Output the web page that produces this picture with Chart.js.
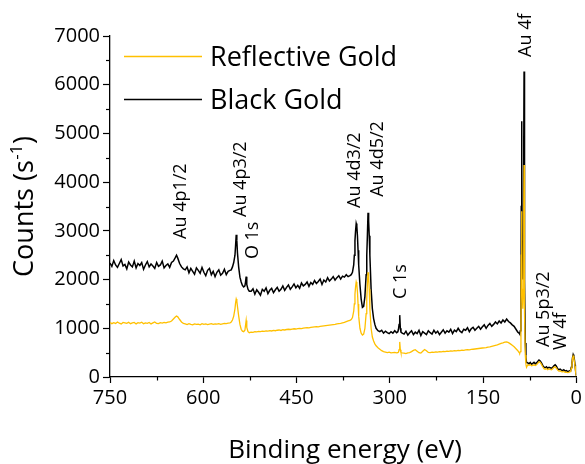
<!DOCTYPE html>
<html><head><meta charset="utf-8">
<script src="https://cdn.jsdelivr.net/npm/chart.js@4"></script>
<style>html,body{margin:0;padding:0;background:#fff}#wrap{width:585px;height:464px;position:relative}</style>
</head><body><div id="wrap"><canvas id="c" width="585" height="464"></canvas></div>
<script>
// Binding energy (eV), descending
const energy = [
750,747,744,741,738,735,732,729,726,723,720,717,714,711,708,705,702,699,696,693,690,687,684,681,678,675,672,669,666,663,660,657,654,651,
648,645,643,641,638,635,632,
629,626,623,620,617,614,611,608,605,602,599,596,593,590,587,584,581,578,575,572,569,566,563,560,557,
555,553,551,549,548,547,546,545,543,541,539,537,535,533,532,531,530,528,526,
523,520,517,514,511,508,505,502,499,496,493,490,487,484,481,478,475,472,469,466,463,460,457,454,451,448,445,442,439,436,433,430,427,424,421,418,415,412,409,406,403,400,397,394,391,388,385,382,379,376,373,370,367,
364,362,360,358,357,356,355,354,353,352,351,350,348,346,344,342,340,338,337,336,335,334,333,332,330,328,326,324,322,319,316,313,310,307,304,301,298,295,292,289,287,286,285,284,283,282,280,
277,274,271,268,265,262,259,256,253,250,247,244,241,238,235,232,229,226,223,220,217,214,211,208,205,202,199,196,193,190,187,184,181,178,175,172,169,166,163,160,157,154,151,148,145,142,139,136,133,130,127,124,121,118,115,112,109,106,103,100,97,94,
92,91,90,89,88.5,88,87.5,87,86,85,84.5,84,83.5,83,82,81,80,
78,76,74,72,70,68,66,64,62,60,58,56,54,52,50,48,46,44,42,40,38,36,34,32,30,28,26,24,22,20,18,16,14,12,10,
9,8,7,6,5,4,3,2,1,0
];
const reflectiveGold = [
1120,1095,1115,1100,1130,1105,1090,1120,1110,1100,1125,1095,1110,1120,1090,1115,1105,1125,1095,1110,1100,1120,1090,1110,1130,1100,1095,1115,1105,1120,1110,1125,1130,1150,
1190,1230,1250,1235,1180,1130,1100,
1090,1075,1095,1080,1070,1090,1080,1085,1070,1095,1080,1090,1075,1085,1095,1080,1090,1085,1095,1080,1090,1100,1095,1105,1110,
1130,1170,1250,1400,1520,1600,1560,1450,1250,1080,980,940,930,960,1060,1160,1020,930,910,
920,915,930,925,935,930,940,935,945,940,950,945,955,950,960,965,955,970,965,975,980,975,985,990,985,995,1000,995,1005,1010,1015,1010,1020,1025,1030,1035,1030,1040,1045,1050,1055,1060,1065,1070,1075,1080,1090,1095,1100,1110,1120,1135,1150,
1160,1180,1220,1350,1500,1700,1850,1950,1900,1750,1500,1250,1000,900,860,880,1000,1300,1600,1900,2150,2050,1800,1400,1000,820,740,680,640,600,570,540,520,510,500,510,495,500,505,495,500,510,560,720,560,500,495,
490,480,495,500,520,545,560,530,500,490,530,565,540,505,500,510,505,515,510,520,515,525,520,530,525,535,530,540,535,545,540,550,545,555,560,555,565,570,575,580,585,590,595,600,605,615,620,630,640,650,660,675,690,700,715,720,705,680,650,620,580,540,
500,490,520,900,2500,3400,2900,1800,1400,1800,3500,4350,3000,1300,450,260,200,
250,240,255,230,240,250,235,250,280,310,300,260,210,170,160,175,150,165,155,150,170,200,210,180,140,120,125,110,105,115,95,100,90,95,110,
130,180,260,380,430,400,320,220,100,20
];
const blackGold = [
2340,2270,2390,2300,2250,2330,2410,2280,2310,2220,2360,2300,2260,2380,2240,2330,2290,2350,2210,2300,2370,2260,2320,2280,2230,2350,2270,2300,2380,2240,2290,2320,2250,2350,
2380,2450,2500,2440,2330,2260,2220,
2200,2260,2140,2230,2170,2110,2240,2190,2130,2250,2150,2080,2190,2230,2100,2170,2060,2150,2200,2090,2130,2210,2100,2170,2190,
2200,2260,2350,2500,2700,2920,2800,2550,2250,2050,1950,1880,1850,1870,1950,2060,1900,1800,1760,
1760,1810,1700,1790,1740,1680,1800,1760,1830,1710,1780,1820,1730,1790,1840,1760,1800,1870,1780,1840,1890,1800,1850,1910,1830,1880,1820,1930,1870,1900,1950,1860,1940,1900,1980,1920,1960,2010,1900,1990,1950,2040,1970,2010,2060,1990,2040,2080,2010,2070,2050,2100,2060,
2080,2100,2150,2300,2500,2800,3000,3150,3100,2900,2600,2300,1900,1600,1430,1450,1650,2100,2500,2900,3370,3200,2900,2500,1800,1400,1200,1080,1000,950,930,960,900,940,910,890,930,900,950,910,930,980,1080,1270,1000,920,900,
880,940,860,910,950,870,920,890,960,850,930,900,870,950,910,880,960,900,940,870,920,970,900,950,920,980,890,960,930,1000,940,910,980,960,1010,930,990,1020,960,1000,1040,980,1030,1070,1000,1060,1100,1040,1080,1130,1090,1150,1110,1170,1130,1190,1140,1110,1070,1040,980,920,
900,880,950,1500,3500,5250,4500,2800,2000,2500,4800,6270,4500,2000,700,400,300,
290,270,300,260,280,300,270,290,320,350,330,290,240,200,190,210,180,200,190,180,200,230,250,220,170,150,160,140,130,150,120,130,110,120,130,
150,200,280,400,460,430,350,250,120,30
];
const seriesNames = ['Reflective Gold', 'Black Gold'];
const seriesColors = ['#FFC000', '#000000'];
const xMinorTicks = [675, 525, 375, 225, 75];
const yMinorTicks = [500, 1500, 2500, 3500, 4500, 5500, 6500];
const peakLabels = ['Au 4p1/2', 'Au 4p3/2', 'O 1s', 'Au 4d3/2', 'Au 4d5/2', 'C 1s', 'Au 4f', 'Au 5p3/2', 'W 4f'];
const peakLabelEnergy = [638, 542, 523, 358, 321, 284, 83, 54, 27];
const peakLabelCounts = [2834, 3285, 2420, 3470, 3700, 1600, 6570, 616, 554];

const FONT = '"Open Sans", "Liberation Sans", sans-serif';

function toPoints(vals) { return energy.map((e, i) => ({ x: e, y: vals[i] })); }

const overlay = {
  id: 'overlay',
  afterDraw(chart) {
    const { ctx, chartArea: a, scales: { x, y } } = chart;
    ctx.save();
    ctx.strokeStyle = '#000';
    ctx.lineWidth = 1.2;
    xMinorTicks.forEach(v => {
      const px = Math.round(x.getPixelForValue(v)) + 0.5;
      ctx.beginPath(); ctx.moveTo(px, a.bottom); ctx.lineTo(px, a.bottom + 3.5); ctx.stroke();
    });
    yMinorTicks.forEach(v => {
      const py = Math.round(y.getPixelForValue(v)) + 0.5;
      ctx.beginPath(); ctx.moveTo(a.left, py); ctx.lineTo(a.left - 4, py); ctx.stroke();
    });
    // peak labels
    ctx.fillStyle = '#000';
    const lf = 18;
    ctx.font = lf + 'px ' + FONT;
    peakLabels.forEach((t, i) => {
      const px = x.getPixelForValue(peakLabelEnergy[i]);
      const py = y.getPixelForValue(peakLabelCounts[i]);
      ctx.save();
      ctx.translate(px + lf * 0.714 / 2, py);
      ctx.rotate(-Math.PI / 2);
      ctx.textAlign = 'left'; ctx.textBaseline = 'alphabetic';
      ctx.fillText(t, 0, 0);
      ctx.restore();
    });
    // legend
    const lg = 27;
    ctx.font = lg + 'px ' + FONT;
    seriesNames.forEach((n, i) => {
      const ly = 56.5 + i * 43;
      ctx.strokeStyle = seriesColors[i]; ctx.lineWidth = 1.3;
      ctx.beginPath(); ctx.moveTo(a.left + 14, ly); ctx.lineTo(a.left + 92, ly); ctx.stroke();
      ctx.textAlign = 'left'; ctx.textBaseline = 'alphabetic';
      ctx.fillText(n, a.left + 100, ly + lg * 0.714 / 2);
    });
    // x title
    const tf = 26;
    ctx.font = tf + 'px ' + FONT;
    ctx.textAlign = 'center'; ctx.textBaseline = 'alphabetic';
    ctx.fillText('Binding energy (eV)', (a.left + a.right) / 2 + 2, 458);
    // y title with superscript
    const yf = 27, sf = 17;
    ctx.font = yf + 'px ' + FONT;
    const p1 = 'Counts (s', p2 = '-1', p3 = ')';
    const w1 = ctx.measureText(p1).width, w3 = ctx.measureText(p3).width;
    ctx.font = sf + 'px ' + FONT;
    const w2 = ctx.measureText(p2).width;
    const W = w1 + w2 + w3 + 1;
    ctx.save();
    ctx.translate(33, (a.top + a.bottom) / 2 + W / 2);
    ctx.rotate(-Math.PI / 2);
    ctx.textAlign = 'left';
    ctx.font = yf + 'px ' + FONT;
    ctx.fillText(p1, 0, 0);
    ctx.font = sf + 'px ' + FONT;
    ctx.fillText(p2, w1 + 0.5, -yf * 0.42);
    ctx.font = yf + 'px ' + FONT;
    ctx.fillText(p3, w1 + w2 + 1, 0);
    ctx.restore();
    ctx.restore();
  }
};

new Chart(document.getElementById('c'), {
  type: 'line',
  data: {
    datasets: [
      { label: seriesNames[0], data: toPoints(reflectiveGold), borderColor: seriesColors[0], borderWidth: 1.3, pointRadius: 0, tension: 0, fill: false },
      { label: seriesNames[1], data: toPoints(blackGold), borderColor: seriesColors[1], borderWidth: 1.5, pointRadius: 0, tension: 0, fill: false }
    ]
  },
  options: {
    responsive: false,
    devicePixelRatio: 1,
    animation: false,
    layout: { padding: { top: 36, right: 7, left: 0, bottom: 0 } },
    plugins: { legend: { display: false }, tooltip: { enabled: false } },
    scales: {
      x: {
        type: 'linear', reverse: true, min: 0, max: 750,
        afterFit(s) { s.height = 87; },
        ticks: { stepSize: 150, color: '#000', font: { family: FONT, size: 20 }, padding: 3, maxRotation: 0, callback: v => String(v) },
        grid: { drawOnChartArea: false, drawTicks: true, tickLength: 6, tickColor: '#000', tickWidth: 1.2 },
        border: { display: true, color: '#000', width: 1.3 }
      },
      y: {
        min: 0, max: 7000,
        afterFit(s) { s.width = 110; },
        ticks: { stepSize: 1000, color: '#000', font: { family: FONT, size: 20 }, padding: 3, callback: v => String(v) },
        grid: { drawOnChartArea: false, drawTicks: true, tickLength: 7, tickColor: '#000', tickWidth: 1.2 },
        border: { display: true, color: '#000', width: 1.3 }
      }
    }
  },
  plugins: [overlay]
});
</script>
</body></html>
